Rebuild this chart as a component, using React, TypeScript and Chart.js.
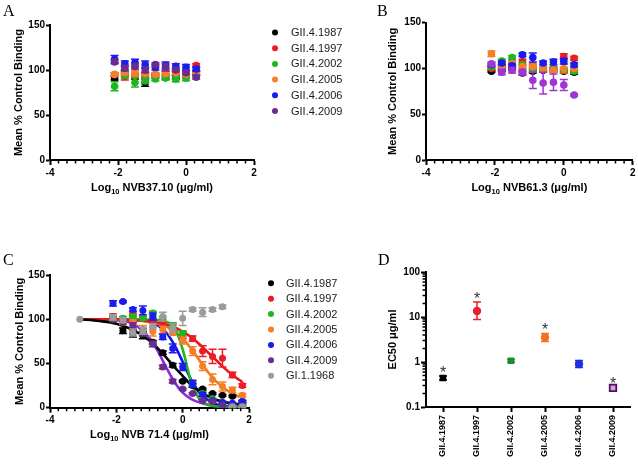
import React, { useEffect, useRef } from 'react';
import { Chart, registerables } from 'chart.js';

Chart.register(...registerables);

const SANS = "'Liberation Sans', Arial, Helvetica, sans-serif";
const SERIF = "'Liberation Serif', 'Times New Roman', Times, serif";

// ---------------- labels / ticks ----------------
const STRAINS = ['GII.4.1987', 'GII.4.1997', 'GII.4.2002', 'GII.4.2005', 'GII.4.2006', 'GII.4.2009'];
const STRAIN_GI = 'GI.1.1968';
const Y_PCT_TICKS = [0, 50, 100, 150];
const X_LOG_TICKS = [-4, -2, 0, 2];
const D_Y_TICKS = [0.1, 1, 10, 100];
const D_Y_LABELS = ['0.1', '1', '10', '100'];

// ---------------- panel A (NVB37.10) ----------------
const DOSE_AB = [-2.1, -1.8, -1.5, -1.2, -0.9, -0.6, -0.3, 0, 0.3];
const A_1987 = [91, 97, 92, 86, 93, 92, 92, 94, 96];
const A_1997 = [95, 93, 94, 94, 95, 97, 97, 97, 105];
const A_2002 = [82, 94, 86, 88, 90, 91, 90, 91, 97];
const A_2005 = [95, 97, 96, 96, 95, 96, 97, 95, 98];
const A_2006 = [112, 107, 108, 106, 103, 105, 104, 103, 101];
const A_2009 = [109, 102, 104, 100, 106, 103, 100, 97, 92];
const A_ERR_1987 = [2, 3, 2, 4, 2, 2, 2, 2, 2];
const A_ERR_1997 = [2, 4, 2, 2, 2, 2, 2, 2, 2];
const A_ERR_2002 = [5, 3, 5, 3, 2, 2, 3, 3, 2];
const A_ERR_2005 = [2, 2, 3, 2, 2, 2, 2, 2, 2];
const A_ERR_2006 = [4, 3, 4, 4, 3, 4, 3, 3, 2];
const A_ERR_2009 = [2, 3, 3, 3, 2, 4, 2, 2, 2];

// ---------------- panel B (NVB61.3) ----------------
const B_1987 = [97, 99, 100, 95, 97, 98, 98, 97, 96];
const B_1997 = [100, 101, 106, 107, 103, 100, 100, 113, 111];
const B_2002 = [102, 108, 112, 104, 99, 99, 99, 99, 97];
const B_2005 = [116, 103, 105, 102, 102, 100, 98, 100, 100];
const B_2006 = [104, 106, 103, 115, 112, 106, 107, 108, 104];
const B_2009 = [105, 96, 98, 96, 87, 84, 85, 82, 71];
const B_ERR_1987 = [1, 2, 2, 2, 2, 2, 2, 2, 2];
const B_ERR_1997 = [2, 2, 2, 3, 2, 2, 2, 3, 2];
const B_ERR_2002 = [2, 2, 2, 2, 3, 2, 2, 2, 2];
const B_ERR_2005 = [3, 2, 2, 2, 2, 2, 2, 5, 2];
const B_ERR_2006 = [2, 2, 2, 2, 5, 2, 3, 3, 2];
const B_ERR_2009 = [2, 3, 3, 3, 9, 12, 9, 6, 1];

// ---------------- panel C (NVB 71.4) ----------------
const DOSE_C = [-2.1, -1.8, -1.5, -1.2, -0.9, -0.6, -0.3, 0, 0.3, 0.6, 0.9, 1.2, 1.5, 1.8];
const DOSE_C_GI = [-3.1, -2.1, -1.8, -1.5, -1.2, -0.9, -0.6, -0.3, 0, 0.3, 0.6, 0.9, 1.2, 1.5, 1.8];
const C_1987 = [100, 87, 84, 82, 74, 62, 48, 30, 25, 21, 16, 14, 13, 7];
const C_1997 = [103, 100, 105, 101, 99, 95, 91, 82, 78, 64, 58, 56, 37, 25];
const C_2002 = [100, 101, 103, 101, 107, 101, 93, 84, 27, 16, 10, 6, 4, 3];
const C_2005 = [101, 97, 96, 88, 86, 88, 85, 76, 64, 47, 32, 24, 20, 14];
const C_2006 = [118, 120, 111, 110, 103, 80, 67, 46, 27, 15, 8, 6, 5, 7];
const C_2009 = [100, 97, 93, 85, 72, 46, 30, 21, 16, 8, 7, 3, 2, 2];
const C_GI = [100, 102, 99, 85, 87, 92, 103, 90, 101, 111, 108, 111, 114, 1, 1];
const C_ERR_1987 = [2, 3, 4, 4, 2, 2, 2, 1, 2, 1, 1, 1, 1, 1];
const C_ERR_1997 = [3, 2, 2, 2, 2, 2, 3, 4, 3, 6, 8, 10, 3, 2];
const C_ERR_2002 = [2, 2, 2, 2, 2, 2, 3, 3, 2, 2, 1, 1, 1, 1];
const C_ERR_2005 = [3, 3, 3, 5, 5, 4, 3, 4, 5, 5, 6, 5, 3, 2];
const C_ERR_2006 = [3, 1, 2, 5, 4, 3, 5, 4, 4, 2, 1, 1, 1, 1];
const C_ERR_2009 = [2, 2, 3, 4, 3, 2, 2, 1, 1, 1, 1, 1, 1, 1];
const C_ERR_GI = [0, 3, 3, 4, 4, 3, 5, 5, 8, 2, 5, 2, 2, 1, 1];

// fitted curves
const CURVE_X = [-3.1, -2.5, -2, -1.5, -1, -0.75, -0.5, -0.25, 0, 0.25, 0.5, 0.75, 1, 1.25, 1.5, 1.8];
const FIT_1987 = [100, 98, 95, 88, 76, 67, 57, 46, 36, 26, 19, 13, 9, 6.5, 4.5, 3.5];
const FIT_1997 = [100, 100, 100, 99, 97.5, 96, 94, 91, 86, 80, 72, 63, 54, 45, 37, 29];
const FIT_2002 = [100, 100, 100, 100, 99.5, 99, 97, 91, 66, 30, 10, 3.5, 1.2, 0.5, 0.2, 0.1];
const FIT_2005 = [100, 100, 99.5, 99, 97, 95, 92, 86, 78, 67, 54, 41, 30, 22, 16, 11];
const FIT_2006 = [100, 100, 100, 99.5, 97, 93, 85, 71, 52, 32, 17, 9, 4, 2, 1, 0.6];
const FIT_2009 = [100, 100, 99, 95, 79, 64, 46, 29, 17, 10, 6, 3.5, 2, 1.2, 0.8, 0.5];

// ---------------- panel D (EC50) ----------------
const D_EC50 = [0.44, 13.6, 1.06, 3.5, 0.9, 0.265];
const D_LOW = [0.4, 8.8, 1.0, 2.85, 0.75, 0.25];
const D_HIGH = [0.49, 21.5, 1.13, 4.3, 1.08, 0.28];
const D_STAR = [true, true, false, true, false, true];

// ---------------- styles ----------------
const COL_AC = ['#000000', '#ec1c24', '#22b522', '#f57f29', '#1b1bef', '#6b2c91'];
const COL_B = ['#000000', '#ec1c24', '#22b522', '#f57f29', '#1b1bef', '#a035d6'];
const COL_GRAY = '#9b9b9b';
const COL_FIT = ['#000000', '#e8161b', '#1fb51f', '#f27a1e', '#1212e6', '#8a2be2'];
const D_FILL = ['#000000', '#e8202a', '#1e8c2a', '#f37021', '#1d2fe0', '#d9a0d9'];
const D_EDGE = ['#000000', '#e8202a', '#1e8c2a', '#f37021', '#1d2fe0', '#4b1262'];
const D_STYLE = ['rect', 'circle', 'rect', 'circle', 'circle', 'rect'];
const D_RADIUS = [4.6, 4.2, 4.6, 4.2, 4.2, 4.6];
const D_EDGE_W = [0, 0, 0, 0, 0, 1.8];

function range(from: number, to: number, step: number, skipEvery: number) {
  const out: number[] = [];
  for (let k = 0; from + k * step <= to + 1e-9; k++) {
    const v = +(from + k * step).toFixed(4);
    if (Math.abs(v / skipEvery - Math.round(v / skipEvery)) > 1e-6) out.push(v);
  }
  return out;
}
const X_MINOR = range(-4, 2, 0.25, 2);
const D_Y_MINOR: number[] = [];
[0.1, 1, 10].forEach((d) => { for (let m = 2; m <= 9; m++) D_Y_MINOR.push(+(m * d).toFixed(4)); });

// ---------------- plugins ----------------
const errorBars = {
  id: 'errorBars',
  beforeDatasetDraw(chart: any, args: any) {
    const ds: any = chart.data.datasets[args.index];
    if (!ds.err && !ds.errLow) return;
    const meta = chart.getDatasetMeta(args.index);
    const ys = chart.scales.y;
    const ctx = chart.ctx;
    ctx.save();
    ctx.lineWidth = 1.5;
    meta.data.forEach((el: any, i: number) => {
      const raw = ds.data[i];
      const v = typeof raw === 'number' ? raw : raw.y;
      let lo: number, hi: number;
      if (ds.errLow) { lo = ds.errLow[i]; hi = ds.errHigh[i]; }
      else { const e = ds.err[i]; if (!e) return; lo = v - e; hi = v + e; }
      const color = Array.isArray(ds.errColor) ? ds.errColor[i] : ds.errColor;
      const x = el.x;
      const y1 = ys.getPixelForValue(lo);
      const y2 = ys.getPixelForValue(hi);
      const cap = 4;
      ctx.strokeStyle = color;
      ctx.beginPath();
      ctx.moveTo(x, y1); ctx.lineTo(x, y2);
      ctx.moveTo(x - cap, y1); ctx.lineTo(x + cap, y1);
      ctx.moveTo(x - cap, y2); ctx.lineTo(x + cap, y2);
      ctx.stroke();
    });
    ctx.restore();
  },
};
Chart.register(errorBars);

type Deco = {
  letter: { text: string; x: number; y: number };
  xTitle?: { main: string; sub: string; rest: string; baseline: number };
  xMinor?: number[];
  yMinor?: number[];
  legend?: { items: { label: string; color: string }[]; dotX: number; textX: number; y0: number; dy: number };
  stars?: { flags: boolean[]; high: number[] };
};

function makeDeco(id: string, d: Deco) {
  return {
    id,
    afterDraw(chart: any) {
      const ctx = chart.ctx;
      const area = chart.chartArea;
      ctx.save();
      ctx.fillStyle = '#000';
      ctx.strokeStyle = '#000';
      // panel letter
      ctx.font = `16px ${SERIF}`;
      ctx.textAlign = 'left';
      ctx.textBaseline = 'alphabetic';
      ctx.fillText(d.letter.text, d.letter.x, d.letter.y);
      // minor ticks
      if (d.xMinor) {
        const s = chart.scales.x;
        ctx.lineWidth = 1.5;
        ctx.beginPath();
        d.xMinor.forEach((v) => {
          const p = s.getPixelForValue(v);
          ctx.moveTo(p, area.bottom); ctx.lineTo(p, area.bottom + 3.5);
        });
        ctx.stroke();
      }
      if (d.yMinor) {
        const s = chart.scales.y;
        ctx.lineWidth = 1.5;
        ctx.beginPath();
        d.yMinor.forEach((v) => {
          const p = s.getPixelForValue(v);
          ctx.moveTo(area.left, p); ctx.lineTo(area.left - 3.5, p);
        });
        ctx.stroke();
      }
      // x title with subscript
      if (d.xTitle) {
        const t = d.xTitle;
        const fMain = `bold 11px ${SANS}`;
        const fSub = `bold 7.5px ${SANS}`;
        ctx.font = fMain;
        const w1 = ctx.measureText(t.main).width;
        const w3 = ctx.measureText(t.rest).width;
        ctx.font = fSub;
        const w2 = ctx.measureText(t.sub).width;
        let x = (area.left + area.right) / 2 - (w1 + w2 + w3) / 2;
        ctx.font = fMain; ctx.fillText(t.main, x, t.baseline); x += w1;
        ctx.font = fSub; ctx.fillText(t.sub, x, t.baseline + 3); x += w2;
        ctx.font = fMain; ctx.fillText(t.rest, x, t.baseline);
      }
      // legend
      if (d.legend) {
        const L = d.legend;
        ctx.font = `11px ${SANS}`;
        ctx.textBaseline = 'middle';
        L.items.forEach((it, i) => {
          const y = L.y0 + i * L.dy;
          ctx.fillStyle = it.color;
          ctx.beginPath();
          ctx.arc(L.dotX, y, 3, 0, Math.PI * 2);
          ctx.fill();
          ctx.fillStyle = '#1a1a1a';
          ctx.fillText(it.label, L.textX, y + 0.5);
        });
      }
      // significance stars
      if (d.stars) {
        const meta = chart.getDatasetMeta(0);
        const ys = chart.scales.y;
        ctx.font = `16px ${SANS}`;
        ctx.textAlign = 'center';
        ctx.textBaseline = 'alphabetic';
        ctx.fillStyle = '#333';
        d.stars.flags.forEach((f, i) => {
          if (!f) return;
          const x = meta.data[i].x;
          const top = ys.getPixelForValue(d.stars!.high[i]);
          ctx.fillText('*', x, top + 2);
        });
      }
      ctx.restore();
    },
  };
}

// ---------------- scale helpers ----------------
const tickFont = { family: SANS, size: 10, weight: 'bold' as const };
const axisGrid = (len: number) => ({
  display: true, drawOnChartArea: false, drawTicks: true, tickLength: len, tickWidth: 2, tickColor: '#000',
});
const axisBorder = { display: true, color: '#000', width: 2 };

function doseX() {
  return {
    type: 'linear', min: -4, max: 2,
    afterBuildTicks: (s: any) => { s.ticks = X_LOG_TICKS.map((v) => ({ value: v })); },
    afterFit: (s: any) => { s.height = 40; },
    ticks: { font: tickFont, color: '#000', padding: 2, autoSkip: false, maxRotation: 0 },
    grid: axisGrid(5),
    border: axisBorder,
  };
}

function pctY(width: number, titlePad: number) {
  return {
    type: 'linear', min: 0, max: 150,
    afterBuildTicks: (s: any) => { s.ticks = Y_PCT_TICKS.map((v) => ({ value: v })); },
    afterFit: (s: any) => { s.width = width; },
    ticks: { font: tickFont, color: '#000', padding: 1 },
    grid: axisGrid(4),
    border: axisBorder,
    title: {
      display: true, text: 'Mean % Control Binding', color: '#000',
      font: { family: SANS, size: 11, weight: 'bold' }, padding: { top: titlePad, bottom: 0 },
    },
  };
}

function pointSet(label: string, xs: number[], ys: number[], err: number[], color: string, order: number, r = 3.8) {
  return {
    type: 'scatter', label,
    data: xs.map((x, i) => ({ x, y: ys[i] })),
    err, errColor: color,
    backgroundColor: color, borderColor: color,
    pointRadius: r, pointHoverRadius: r, pointBorderWidth: 0,
    order,
  };
}

function curveSet(label: string, ys: number[], color: string) {
  return {
    type: 'line', label,
    data: CURVE_X.map((x, i) => ({ x, y: ys[i] })),
    borderColor: color, backgroundColor: color, borderWidth: 2.6,
    pointRadius: 0, pointHoverRadius: 0, fill: false,
    cubicInterpolationMode: 'monotone',
    order: 50,
  };
}

const baseOpts = {
  responsive: false, animation: false as const, events: [] as any[],
  plugins: { legend: { display: false }, tooltip: { enabled: false } },
};

// ---------------- panel configs ----------------
function buildA(): any {
  const vals = [A_1987, A_1997, A_2002, A_2005, A_2006, A_2009];
  const errs = [A_ERR_1987, A_ERR_1997, A_ERR_2002, A_ERR_2005, A_ERR_2006, A_ERR_2009];
  return {
    type: 'scatter',
    data: { datasets: STRAINS.map((s, i) => pointSet(s, DOSE_AB, vals[i], errs[i], COL_AC[i], 10 - i)) },
    options: {
      ...baseOpts,
      layout: { padding: { left: 0, top: 25, right: 106, bottom: 20 } },
      scales: { x: doseX(), y: pctY(50, 12) },
    },
    plugins: [makeDeco('decoA', {
      letter: { text: 'A', x: 3, y: 15.5 },
      xMinor: X_MINOR,
      xTitle: { main: 'Log', sub: '10', rest: ' NVB37.10 (\u03bcg/ml)', baseline: 191 },
      legend: { items: STRAINS.map((s, i) => ({ label: s, color: COL_AC[i] })), dotX: 275, textX: 291, y0: 32.5, dy: 15.7 },
    })],
  };
}

function buildB(): any {
  const vals = [B_1987, B_1997, B_2002, B_2005, B_2006, B_2009];
  const errs = [B_ERR_1987, B_ERR_1997, B_ERR_2002, B_ERR_2005, B_ERR_2006, B_ERR_2009];
  return {
    type: 'scatter',
    data: { datasets: STRAINS.map((s, i) => pointSet(s, DOSE_AB, vals[i], errs[i], COL_B[i], 10 - i)) },
    options: {
      ...baseOpts,
      layout: { padding: { left: 0, top: 22.7, right: 5.3, bottom: 20 } },
      scales: { x: doseX(), y: pctY(66, 26.4) },
    },
    plugins: [makeDeco('decoB', {
      letter: { text: 'B', x: 17, y: 15.5 },
      xMinor: X_MINOR,
      xTitle: { main: 'Log', sub: '10', rest: ' NVB61.3 (\u03bcg/ml)', baseline: 191 },
    })],
  };
}

function buildC(): any {
  const vals = [C_1987, C_1997, C_2002, C_2005, C_2006, C_2009];
  const errs = [C_ERR_1987, C_ERR_1997, C_ERR_2002, C_ERR_2005, C_ERR_2006, C_ERR_2009];
  const fits = [FIT_1987, FIT_1997, FIT_2002, FIT_2005, FIT_2006, FIT_2009];
  const points = STRAINS.map((s, i) => pointSet(s, DOSE_C, vals[i], errs[i], COL_AC[i], 10 - i, 3.5));
  points.push(pointSet(STRAIN_GI, DOSE_C_GI, C_GI, C_ERR_GI, COL_GRAY, 3, 3.5));
  const curves = STRAINS.map((s, i) => curveSet(s + ' fit', fits[i], COL_FIT[i]));
  return {
    type: 'scatter',
    data: { datasets: [...points, ...curves] },
    options: {
      ...baseOpts,
      layout: { padding: { left: 0, top: 55, right: 111, bottom: 17.3 } },
      scales: { x: doseX(), y: pctY(50, 13.4) },
    },
    plugins: [makeDeco('decoC', {
      letter: { text: 'C', x: 3, y: 45 },
      xMinor: X_MINOR,
      xTitle: { main: 'Log', sub: '10', rest: ' NVB 71.4 (\u03bcg/ml)', baseline: 217.5 },
      legend: {
        items: [...STRAINS.map((s, i) => ({ label: s, color: COL_AC[i] })), { label: STRAIN_GI, color: COL_GRAY }],
        dotX: 271, textX: 286, y0: 63.3, dy: 15.4,
      },
    })],
  };
}

function buildD(): any {
  return {
    type: 'line',
    data: {
      labels: STRAINS,
      datasets: [{
        label: 'EC50', data: D_EC50, showLine: false,
        pointStyle: D_STYLE, pointRadius: D_RADIUS, pointHoverRadius: D_RADIUS,
        pointBackgroundColor: D_FILL, pointBorderColor: D_EDGE, pointBorderWidth: D_EDGE_W,
        errLow: D_LOW, errHigh: D_HIGH, errColor: D_EDGE,
      }],
    },
    options: {
      ...baseOpts,
      layout: { padding: { left: 0, top: 52, right: 8, bottom: 0 } },
      scales: {
        x: {
          type: 'category', offset: true,
          afterFit: (s: any) => { s.height = 58; },
          ticks: { font: { family: SANS, size: 9, weight: 'bold' }, color: '#000', minRotation: 90, maxRotation: 90, autoSkip: false, padding: 3 },
          grid: { ...axisGrid(5), offset: false },
          border: axisBorder,
        },
        y: {
          type: 'logarithmic', min: 0.1, max: 100,
          afterBuildTicks: (s: any) => { s.ticks = D_Y_TICKS.map((v) => ({ value: v })); },
          afterFit: (s: any) => { s.width = 66; },
          ticks: { font: tickFont, color: '#000', padding: 1, autoSkip: false, callback: (_v: any, i: number) => D_Y_LABELS[i] },
          grid: axisGrid(5),
          border: axisBorder,
          title: {
            display: true, text: 'EC50 \u03bcg/ml', color: '#000',
            font: { family: SANS, size: 11, weight: 'bold' }, padding: { top: 25.9, bottom: 0 },
          },
        },
      },
    },
    plugins: [makeDeco('decoD', {
      letter: { text: 'D', x: 18, y: 45 },
      yMinor: D_Y_MINOR,
      stars: { flags: D_STAR, high: D_HIGH },
    })],
  };
}

function ChartCanvas({ left, top, width, height, build }: { left: number; top: number; width: number; height: number; build: () => any }) {
  const ref = useRef<HTMLCanvasElement>(null);
  useEffect(() => {
    const chart = new Chart(ref.current as HTMLCanvasElement, build());
    return () => chart.destroy();
  }, []);
  return (
    <canvas
      ref={ref}
      width={width}
      height={height}
      style={{ position: 'absolute', left, top, width, height }}
    />
  );
}

export default function App() {
  return (
    <div style={{ position: 'fixed', left: 0, top: 0, width: 638, height: 465, background: '#ffffff', overflow: 'hidden' }}>
      <ChartCanvas left={0} top={0} width={360} height={220} build={buildA} />
      <ChartCanvas left={360} top={0} width={278} height={220} build={buildB} />
      <ChartCanvas left={0} top={220} width={360} height={245} build={buildC} />
      <ChartCanvas left={360} top={220} width={278} height={245} build={buildD} />
    </div>
  );
}
